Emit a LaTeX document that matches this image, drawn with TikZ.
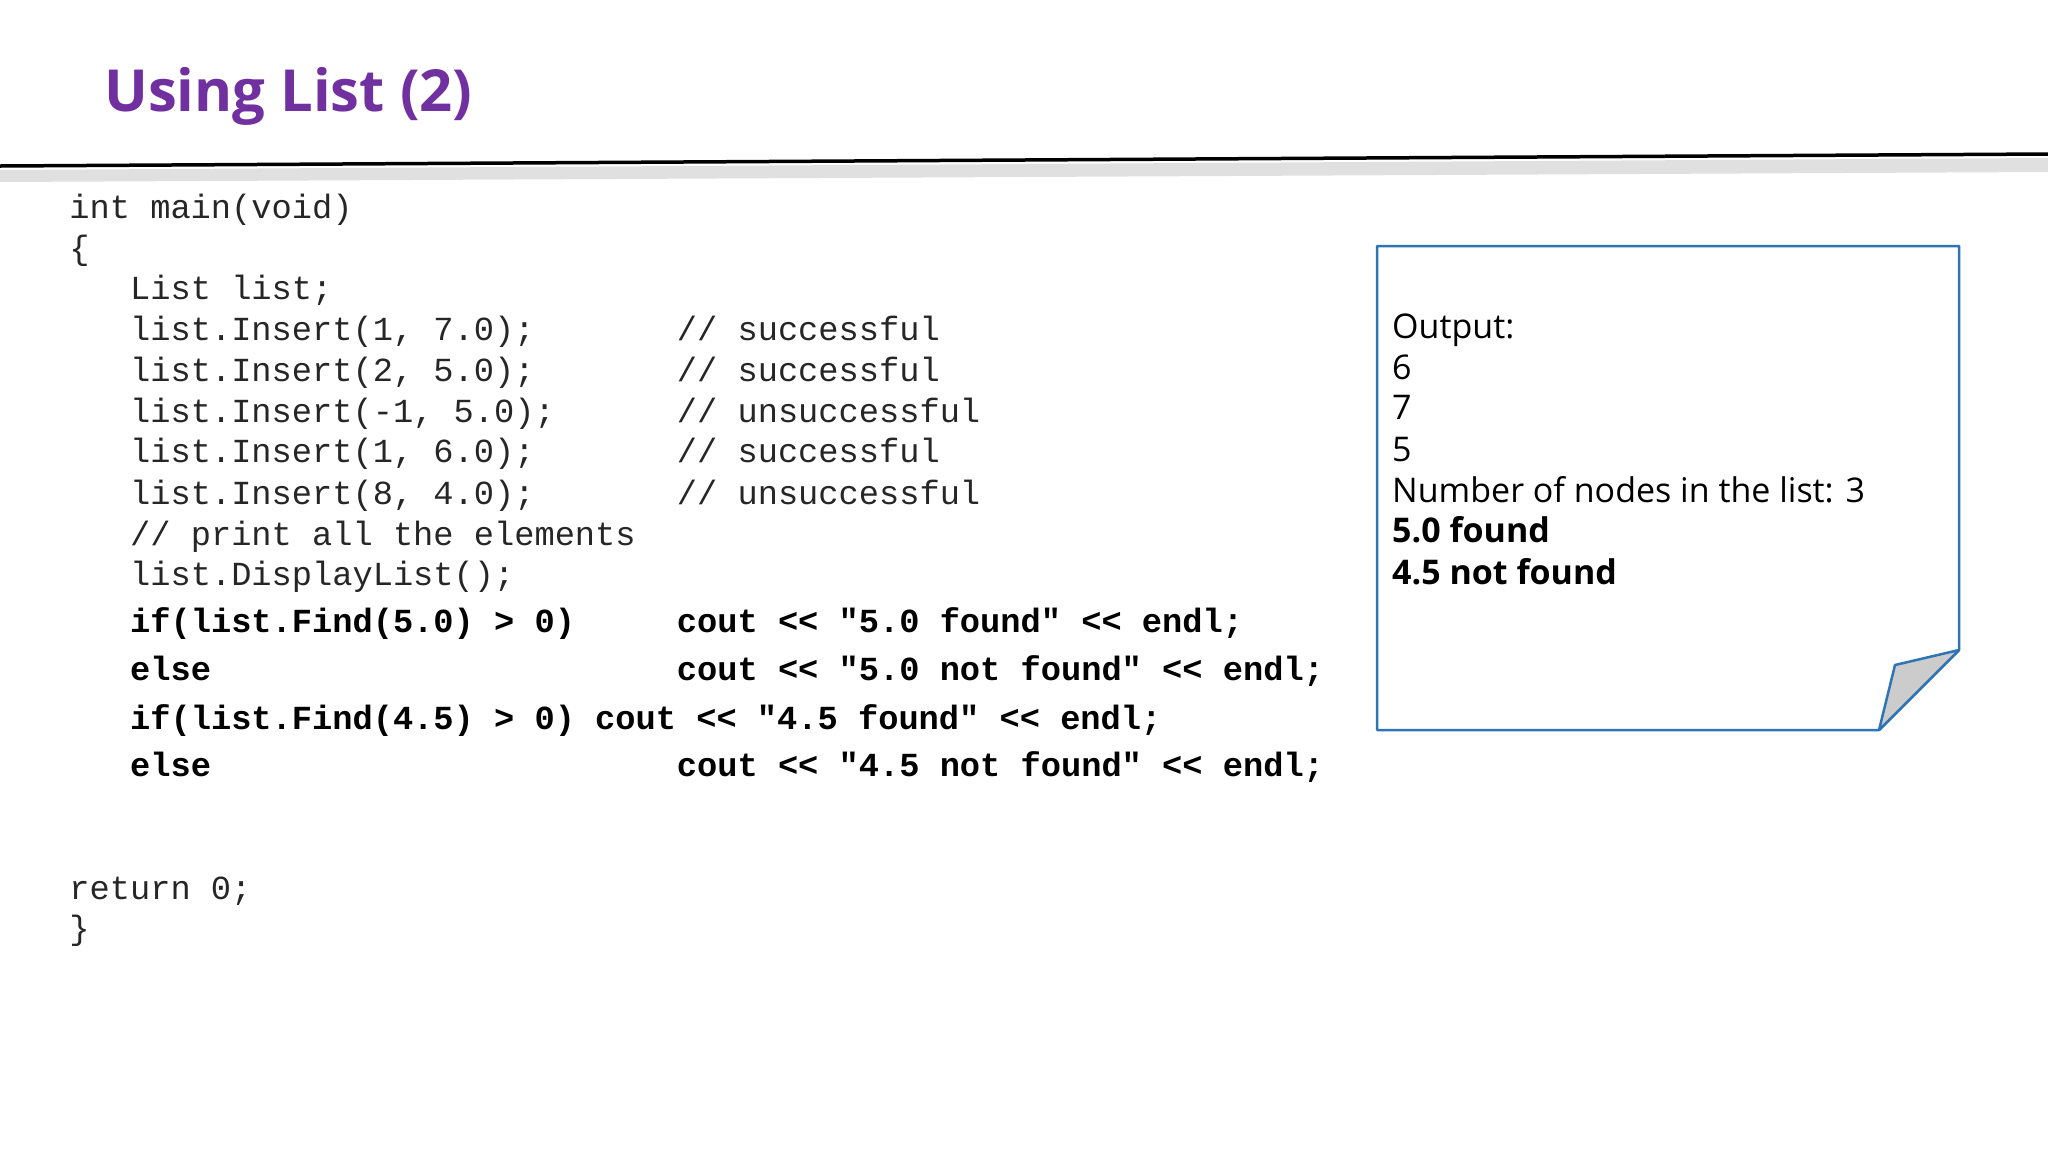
\documentclass[tikz,border=0pt]{standalone}
\usepackage{fontspec}
\setmainfont{Open Sans}
\newfontfamily\codefont{Liberation Mono}
\definecolor{ttl}{HTML}{7030A0}
\definecolor{bx}{HTML}{2E75B6}
\begin{document}
\begin{tikzpicture}[x=1pt,y=-1pt,
  code/.style={anchor=base west,inner sep=0pt,font=\codefont\fontsize{33.7}{40}\selectfont,text=black!85},
  bcode/.style={code,font=\codefont\bfseries\fontsize{33.7}{40}\selectfont,text=black},
  outt/.style={anchor=base west,inner sep=0pt,font=\fontsize{34}{40}\selectfont}]
\useasboundingbox (0,0) rectangle (2048,1152);
\node[anchor=base west,inner sep=0pt,font=\bfseries\fontsize{58}{60}\selectfont,text=ttl] (title) at (104,111) {Using List (2)};
\fill[black!12] (0,170) -- (2048,158) -- (2048,172) -- (0,182) -- cycle;
\draw[line width=3.5pt] (0,166) -- (2048,154);
\def\cx{69.2}\def\cw{20.25}
\node[code] (l1) at (\cx,218) {int main(void)};
\node[code] (l2) at (\cx,259) {\{};
\node[code] (l3) at (\cx+3*\cw,299) {List list;};
\node[code] (l4) at (\cx+3*\cw,340) {list.Insert(1, 7.0);};
\node[code] (c4) at (\cx+30*\cw,340) {// successful};
\node[code] (l5) at (\cx+3*\cw,381) {list.Insert(2, 5.0);};
\node[code] (c5) at (\cx+30*\cw,381) {// successful};
\node[code] (l6) at (\cx+3*\cw,422) {list.Insert(-1, 5.0);};
\node[code] (c6) at (\cx+30*\cw,422) {// unsuccessful};
\node[code] (l7) at (\cx+3*\cw,462) {list.Insert(1, 6.0);};
\node[code] (c7) at (\cx+30*\cw,462) {// successful};
\node[code] (l8) at (\cx+3*\cw,504) {list.Insert(8, 4.0);};
\node[code] (c8) at (\cx+30*\cw,504) {// unsuccessful};
\node[code] (l9) at (\cx+3*\cw,545) {// print all the elements};
\node[code] (l10) at (\cx+3*\cw,585) {list.DisplayList();};
\node[bcode] (b1) at (\cx+3*\cw,632) {if(list.Find(5.0) > 0)};
\node[bcode] (b1c) at (\cx+30*\cw,632) {cout << "5.0 found" << endl;};
\node[bcode] (b2) at (\cx+3*\cw,680) {else};
\node[bcode] (b2c) at (\cx+30*\cw,680) {cout << "5.0 not found" << endl;};
\node[bcode] (b3) at (\cx+3*\cw,729) {if(list.Find(4.5) > 0) cout << "4.5 found" << endl;};
\node[bcode] (b4) at (\cx+3*\cw,776) {else};
\node[bcode] (b4c) at (\cx+30*\cw,776) {cout << "4.5 not found" << endl;};
\node[code] (r) at (\cx,899) {return 0;};
\node[code] (e) at (\cx,939) {\}};
\draw[bx,line width=2.5pt,line join=round] (1377,246) -- (1959,246) -- (1959,650) -- (1879,730) -- (1377,730) -- cycle;
\filldraw[bx,fill=black!20,line width=2.5pt,line join=round] (1959,650) -- (1895,665) -- (1879,730) -- cycle;
\node[outt] (o1) at (1392,338) {Output:};
\node[outt] (o2) at (1392,379) {6};
\node[outt] (o3) at (1392,419) {7};
\node[outt] (o4) at (1392,461) {5};
\node[outt] (o5) at (1392,502) {Number of nodes in the list: 3};
\node[outt,font=\bfseries\fontsize{34}{40}\selectfont] (o6) at (1392,542) {5.0 found};
\node[outt,font=\bfseries\fontsize{34}{40}\selectfont] (o7) at (1392,584) {4.5 not found};
\end{tikzpicture}
\end{document}
